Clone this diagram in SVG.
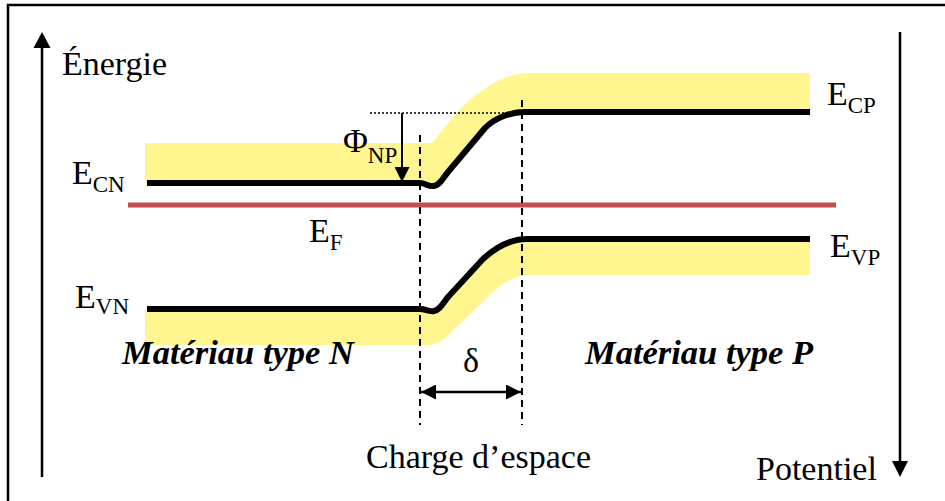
<svg xmlns="http://www.w3.org/2000/svg" width="945" height="501" viewBox="0 0 945 501">
<defs>
<style>
text{font-family:"Liberation Serif","Times New Roman",serif;fill:#000}
.lbl{font-size:34px}
.sub{font-size:23px}
.bi{font-size:34.5px;font-weight:bold;font-style:italic}
.band{fill:#fff68f;stroke:none}
.lvl{fill:none;stroke:#000;stroke-width:6;stroke-linejoin:round}
.dash{fill:none;stroke:#000;stroke-width:2;stroke-dasharray:7,5}
.ax{stroke:#000;stroke-width:2.5;fill:none}
</style>
<marker id="ah" viewBox="0 0 10 10" refX="10" refY="5" markerWidth="16" markerHeight="15" markerUnits="userSpaceOnUse" orient="auto-start-reverse">
<path d="M0,0 L10,5 L0,10 Z" fill="#000"/>
</marker>
</defs>
<rect width="945" height="501" fill="#fff"/>
<g id="frame">
<path class="ax" d="M8,501 L8,5 L945,5"/>
</g>
<g id="bands">
<path id="band-c" class="band" d="M145,143 L432,143 C445,128 460,105 480,92 C495,81 510,73 530,73 L810,73 L810,112 L525,112 C510,112 495,118 485,128 L448,172 C443,178 440,185 434,186 C428,187 426,183 420,183 L145,183 Z"/>
<path id="band-v" class="band" d="M145,309 L420,309 C426,309 428,312 434,311 C440,310 443,303 448,297 L483,259 C495,248 510,239 527,239 L810,239 L810,275 L525,275 C508,278 497,288 488,297 L445,338 C440,343 435,345 425,345 L145,345 Z"/>
</g>
<g id="fermi">
<line x1="128" y1="205" x2="836" y2="205" stroke="#c0504d" stroke-width="5"/>
</g>
<g id="levels">
<path id="Ec" class="lvl" d="M147,183 L420,183 C426,183 428,187 434,186 C440,185 443,178 448,172 L485,128 C495,118 510,112 525,112 L810,112"/>
<path id="Ev" class="lvl" d="M147,309 L420,309 C426,309 428,312 434,311 C440,310 443,303 448,297 L483,259 C495,248 510,239 527,239 L810,239"/>
</g>
<g id="connectors">
<line x1="370" y1="113" x2="516" y2="113" stroke="#000" stroke-width="1.5" stroke-dasharray="2,2"/>
<line x1="402" y1="113" x2="402" y2="182" stroke="#000" stroke-width="2" marker-end="url(#ah)"/>
<line class="dash" x1="420" y1="135" x2="420" y2="425"/>
<line class="dash" x1="522" y1="100" x2="522" y2="425"/>
<line x1="421" y1="392" x2="521" y2="392" stroke="#000" stroke-width="2.5" marker-start="url(#ah)" marker-end="url(#ah)"/>
<line class="ax" x1="42" y1="477" x2="42" y2="46"/>
<path d="M42,32 L50.5,48 L33.5,48 Z" fill="#000"/>
<line class="ax" x1="900" y1="32" x2="900" y2="463"/>
<path d="M900,477 L908,461 L892,461 Z" fill="#000"/>
</g>
<g id="labels">
<text class="lbl" x="62" y="75">Énergie</text>
<text class="lbl" x="72" y="184">E<tspan class="sub" dy="8">CN</tspan></text>
<text class="lbl" x="309" y="242">E<tspan class="sub" dy="8">F</tspan></text>
<text class="lbl" x="75" y="308">E<tspan class="sub" dy="6">VN</tspan></text>
<text class="lbl" x="827" y="105">E<tspan class="sub" dy="8">CP</tspan></text>
<text class="lbl" x="830" y="257">E<tspan class="sub" dy="8">VP</tspan></text>
<text class="lbl" x="343" y="152">Φ<tspan class="sub" dy="11">NP</tspan></text>
<text class="bi" x="122" y="364">Matériau type N</text>
<text class="bi" x="585" y="364">Matériau type P</text>
<text class="lbl" x="471" y="372" text-anchor="middle">δ</text>
<text class="lbl" x="366" y="468">Charge d’espace</text>
<text class="lbl" x="756" y="480">Potentiel</text>
</g>
</svg>
